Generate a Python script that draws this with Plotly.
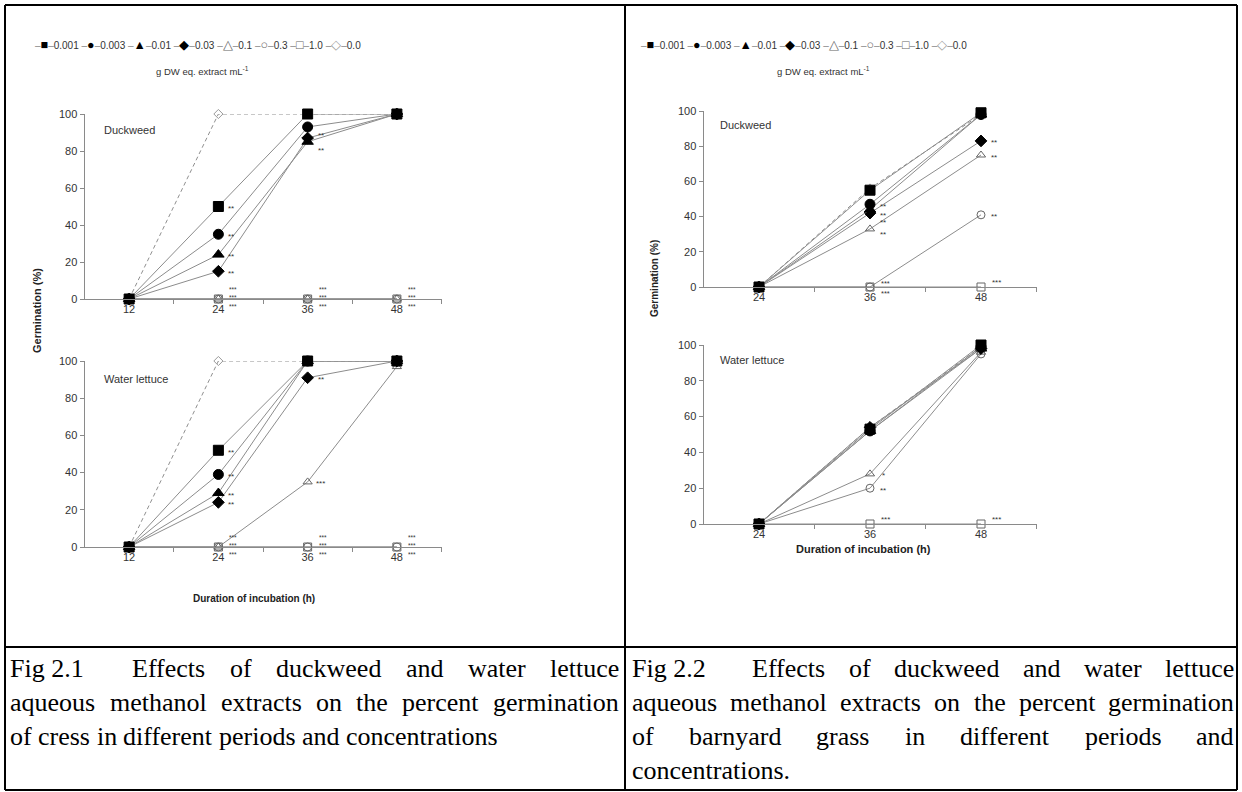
import plotly.graph_objects as go

# ---------------- data ----------------
series_labels = ["0.001", "0.003", "0.01", "0.03", "0.1", "0.3", "1.0", "0.0"]
legend_glyphs = ["■", "●", "▲", "◆", "△", "○", "□", "◇"]

cress_hours = [12, 24, 36, 48]
barnyard_hours = [24, 36, 48]

# Fig 2.1  cress, germination (%) per series (order = series_labels)
cress_duckweed = [
    [0, 50, 100, 100],
    [0, 35, 93, 100],
    [0, 24, 85, 100],
    [0, 15, 87, 100],
    [0, 0, 0, 0],
    [0, 0, 0, 0],
    [0, 0, 0, 0],
    [0, 100, 100, 100],
]
cress_waterlettuce = [
    [0, 52, 100, 100],
    [0, 39, 100, 100],
    [0, 29, 100, 100],
    [0, 24, 91, 100],
    [0, 0, 35, 97],
    [0, 0, 0, 0],
    [0, 0, 0, 0],
    [0, 100, 100, 100],
]
# Fig 2.2  barnyard grass
barnyard_duckweed = [
    [0, 55, 99],
    [0, 47, 98],
    [0, 44, 98],
    [0, 42, 83],
    [0, 33, 75],
    [0, 0, 41],
    [0, 0, 0],
    [0, 56, 98],
]
barnyard_waterlettuce = [
    [0, 53, 100],
    [0, 52, 99],
    [0, 52, 98],
    [0, 54, 98],
    [0, 28, 96],
    [0, 20, 95],
    [0, 0, 0],
    [0, 54, 99],
]

# significance marks: (hour, germination value, stars)
sig_cress_duckweed = [
    (24, 50, "**"), (24, 35, "**"), (24, 24, "**"), (24, 15, "**"),
    (36, 87, "**"), (36, 85, "**"),
    (24, 0, "***"), (24, 0, "***"), (24, 0, "***"),
    (36, 0, "***"), (36, 0, "***"), (36, 0, "***"),
    (48, 0, "***"), (48, 0, "***"), (48, 0, "***"),
]
sig_cress_waterlettuce = [
    (24, 52, "**"), (24, 39, "**"), (24, 29, "**"), (24, 24, "**"),
    (36, 91, "**"), (36, 35, "***"),
    (24, 0, "***"), (24, 0, "***"), (24, 0, "***"),
    (36, 0, "***"), (36, 0, "***"), (36, 0, "***"),
    (48, 0, "***"), (48, 0, "***"), (48, 0, "***"),
]
sig_barnyard_duckweed = [
    (36, 47, "**"), (36, 42, "**"), (36, 38, "**"), (36, 31, "**"),
    (36, 0, "***"), (36, 0, "***"),
    (48, 83, "**"), (48, 75, "**"), (48, 41, "**"), (48, 0, "***"),
]
sig_barnyard_waterlettuce = [
    (36, 28, "*"), (36, 20, "**"), (36, 0, "***"), (48, 0, "***"),
]

caption_left = [
    "Fig 2.1  Effects of duckweed and water lettuce",
    "aqueous methanol extracts on the percent germination",
    "of cress in different periods and concentrations",
]
caption_right = [
    "Fig 2.2  Effects of duckweed and water lettuce",
    "aqueous methanol extracts on the percent germination",
    "of barnyard grass in different periods and",
    "concentrations.",
]

# ---------------- styling / layout ----------------
W, H = 1242, 792
SANS = "Liberation Sans, Arial, sans-serif"
SERIF = "Liberation Serif, Times New Roman, serif"
AXC = "#8a8a8a"
LINEC = "#8c8c8c"
OPENC = "#666666"

marker_symbols = ["square", "circle", "triangle-up", "diamond",
                  "triangle-up-open", "circle-open", "square-open", "diamond-open"]
marker_sizes = [10, 10, 10, 9, 8, 8, 8, 7]
marker_colors = ["#000000"] * 4 + [OPENC] * 3 + ["#9a9a9a"]


def px(x):
    return x / W


def py(y):
    return 1 - y / H


fig = go.Figure()

panels = [
    # (data, hours, xaxis id, yaxis id, x domain px, y domain px, x range, sig)
    (cress_duckweed, cress_hours, "x", "y", (84.5, 441.5), (114, 299), [6, 54], sig_cress_duckweed),
    (cress_waterlettuce, cress_hours, "x2", "y2", (84.5, 441.5), (361, 547), [6, 54], sig_cress_waterlettuce),
    (barnyard_duckweed, barnyard_hours, "x3", "y3", (703.5, 1036.5), (111, 287), [18, 54], sig_barnyard_duckweed),
    (barnyard_waterlettuce, barnyard_hours, "x4", "y4", (703.5, 1036.5), (345, 524), [18, 54], sig_barnyard_waterlettuce),
]

annotations = []

for data, hours, xa, ya, xdom, ydom, xr, sig in panels:
    # draw 0.0 first, filled 0.001 last (on top)
    for i in reversed(range(len(series_labels))):
        is_ctrl = series_labels[i] == "0.0"
        fig.add_trace(go.Scatter(
            x=hours, y=data[i], xaxis=xa, yaxis=ya,
            mode="lines+markers", name=series_labels[i], showlegend=False,
            cliponaxis=False,
            line=dict(color="#8f8f8f" if is_ctrl else LINEC, width=1,
                      dash="4px,3px" if is_ctrl else "solid"),
            marker=dict(symbol=marker_symbols[i], size=marker_sizes[i],
                        color=marker_colors[i],
                        line=dict(width=1, color=marker_colors[i])),
        ))
    # significance stars (stacked when several series share a point)
    groups = {}
    for hr, val, stars in sig:
        groups.setdefault((hr, val), []).append(stars)
    for (hr, val), st in groups.items():
        if val == 0:
            n = len(st)
            if n >= 3:
                size, dy, dx = 6.5, 1.5, 15
            elif n == 2:
                size, dy, dx = 7.5, -1, 15
            else:
                size, dy, dx = 8, 5, 15
            annotations.append(dict(
                x=hr, y=val, xref=xa, yref=ya, text="<br>".join(st), showarrow=False,
                xanchor="center", yanchor="middle", xshift=dx, yshift=dy,
                font=dict(family=SANS, size=size, color="#333333"),
            ))
        else:
            dy = -2
            if xa == "x" and hr == 36 and val == 85:
                dy = -9
            if xa == "x" and hr == 36 and val == 87:
                dy = 3
            annotations.append(dict(
                x=hr, y=val, xref=xa, yref=ya, text=st[0], showarrow=False,
                xanchor="center", yanchor="middle", xshift=13, yshift=dy,
                font=dict(family=SANS, size=8, color="#333333"),
            ))

    axnum = xa[1:]
    fig.update_layout(**{
        ("xaxis" + axnum): dict(
            domain=[px(xdom[0]), px(xdom[1])], range=xr, anchor=ya,
            showline=True, linecolor=AXC, linewidth=1,
            tickmode="array", tickvals=hours, ticks="",
            tickfont=dict(family=SANS, size=11, color="#333333"),
            showgrid=False, zeroline=False, automargin=False,
            minor=dict(tickmode="array", tickvals=[h + 6 for h in hours],
                       ticks="outside", ticklen=4, tickcolor=AXC, showgrid=False),
        ),
        ("yaxis" + axnum): dict(
            domain=[py(ydom[1]), py(ydom[0])], range=[0, 100], anchor=xa,
            showline=True, linecolor=AXC, linewidth=1,
            tickmode="array", tickvals=[0, 20, 40, 60, 80, 100],
            ticks="outside", ticklen=4, tickcolor=AXC,
            tickfont=dict(family=SANS, size=11, color="#333333"),
            showgrid=False, zeroline=False, automargin=False,
        ),
    })


def paper_text(x, y, text, size, family=SANS, color="#333333", xanchor="center",
               yanchor="middle", angle=0, bold=False):
    if bold:
        text = "<b>" + text + "</b>"
    annotations.append(dict(
        x=px(x), y=py(y), xref="paper", yref="paper", text=text, showarrow=False,
        xanchor=xanchor, yanchor=yanchor, textangle=angle,
        font=dict(family=family, size=size, color=color),
    ))


# legends (as text) and concentration unit
def legend_text():
    parts = []
    for lab, g, c in zip(series_labels, legend_glyphs, marker_colors):
        parts.append('<span style="color:#888">–</span>'
                     '<span style="color:%s;font-size:12.5px">%s</span>'
                     '<span style="color:#888">–</span>%s' % (c, g, lab))
    return " ".join(parts)


paper_text(198, 45, legend_text(), 10)
paper_text(804, 45, legend_text(), 10)
paper_text(202, 71, "g DW eq. extract mL<sup>-1</sup>", 9.5)
paper_text(824, 71, "g DW eq. extract mL<sup>-1</sup>", 9.5)

# panel labels
paper_text(102, 130, "Duckweed", 11, xanchor="left")
paper_text(102, 379, "Water lettuce", 11, xanchor="left")
paper_text(718, 125, "Duckweed", 11, xanchor="left")
paper_text(718, 360, "Water lettuce", 11, xanchor="left")

# axis titles
paper_text(254, 598, "Duration of incubation (h)", 10, bold=True, color="#222222")
paper_text(863, 549, "Duration of incubation (h)", 11, bold=True, color="#222222")
paper_text(37, 311, "Germination (%)", 11, bold=True, color="#222222", angle=-90)
paper_text(654, 279, "Germination (%)", 10, bold=True, color="#222222", angle=-90)

# ---------------- captions (justified text) ----------------
TW = {" ": 250, ".": 250, "F": 556, "E": 611, "(": 333, ")": 333}
for ch in "0123456789":
    TW[ch] = 500
TW.update(dict(a=444, b=500, c=444, d=500, e=444, f=333, g=500, h=500, i=278, j=278,
               k=500, l=278, m=778, n=500, o=500, p=500, q=500, r=333, s=389, t=278,
               u=500, v=500, w=722, x=500, y=500, z=444))
CAP_SIZE = 26


def word_width(w):
    return sum(TW.get(ch, 500) for ch in w) * CAP_SIZE / 1000.0


def caption_line(text, x0, x1, y, justify):
    # "Fig 2.x" kept together; double space gives a wider gap
    if text.startswith("Fig"):
        head, rest = text.split("  ", 1)
        words = [head, ""] + rest.split(" ")
    else:
        words = text.split(" ")
    widths = [word_width(w) for w in words]
    if justify and len(words) > 1:
        gap = (x1 - x0 - sum(widths)) / (len(words) - 1)
    else:
        gap = word_width(" ")
    x = x0
    for w, wd in zip(words, widths):
        if w:
            annotations.append(dict(
                x=px(x), y=py(y), xref="paper", yref="paper", text=w, showarrow=False,
                xanchor="left", yanchor="middle", borderpad=0,
                font=dict(family=SERIF, size=CAP_SIZE, color="#000000"),
            ))
        x += wd + gap


line_ys = [668, 702, 736, 770]
for k, t in enumerate(caption_left):
    caption_line(t, 9, 618, line_ys[k], justify=(k < len(caption_left) - 1))
for k, t in enumerate(caption_right):
    caption_line(t, 631, 1233, line_ys[k], justify=(k < len(caption_right) - 1))

# ---------------- table borders ----------------
shapes = []
for x0, y0, x1, y1 in [(5, 5, 1237, 5), (5, 790, 1237, 790), (5, 5, 5, 790),
                       (1237, 5, 1237, 790), (625, 5, 625, 790), (5, 647, 1237, 647)]:
    shapes.append(dict(type="line", xref="paper", yref="paper",
                       x0=px(x0), y0=py(y0), x1=px(x1), y1=py(y1),
                       line=dict(color="#000000", width=2)))

fig.update_layout(
    width=W, height=H,
    margin=dict(l=0, r=0, t=0, b=0, pad=0, autoexpand=False),
    paper_bgcolor="white", plot_bgcolor="white",
    annotations=annotations, shapes=shapes, showlegend=False,
    font=dict(family=SANS),
)

fig.write_html(
    "out.html",
    config={"displayModeBar": False},
    post_script=(
        "document.documentElement.style.margin='0';"
        "document.body.style.margin='0';document.body.style.padding='0';"
        "document.documentElement.style.overflow='hidden';"
        "var gd=document.getElementById('{plot_id}');"
        "gd.style.position='absolute';gd.style.left='0px';gd.style.top='0px';"
    ),
)
